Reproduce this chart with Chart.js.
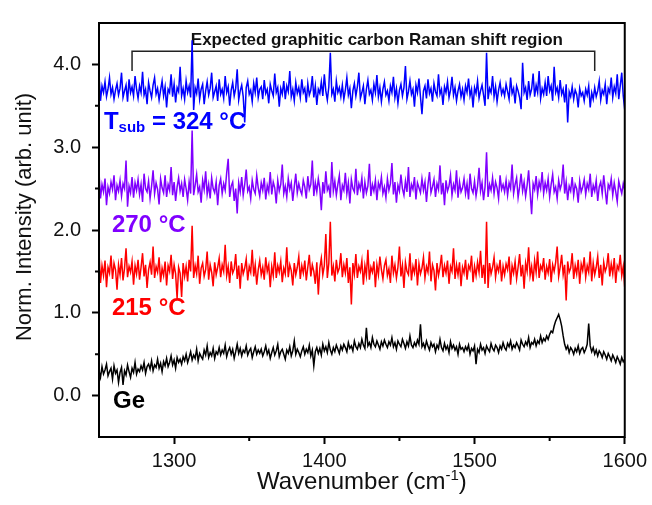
<!DOCTYPE html>
<html>
<head>
<meta charset="utf-8">
<script src="https://cdn.jsdelivr.net/npm/chart.js@4"></script>
<style>
  html, body { margin: 0; padding: 0; background: #fff; }
  canvas { display: block; }
</style>
</head>
<body>
<canvas id="ramanChart" width="652" height="505"></canvas>
<script>
// Raman spectra, normalised and offset; one value per cm-1 from 1250 to 1600
// (27 values per row: rows start at 1250, 1277, 1304, ... 1574)
const wavenumberStart = 1250;
const wavenumberStep = 1;

const tsub324 = [
  3.88, 3.56, 3.74, 3.66, 3.79, 3.61, 3.70, 3.84, 3.64, 3.72, 3.58, 3.69, 3.77, 3.63, 3.71, 3.90, 3.60, 3.68, 3.75, 3.55, 3.82, 3.66, 3.73, 3.62, 3.86, 3.70, 3.59,
  3.74, 3.66, 3.91, 3.63, 3.70, 3.52, 3.78, 3.68, 3.60, 3.75, 3.84, 3.64, 3.71, 3.57, 3.69, 3.80, 3.62, 3.73, 3.48, 3.70, 3.66, 3.88, 3.61, 3.76, 3.54, 3.72, 3.67,
  3.97, 3.62, 3.71, 3.58, 3.80, 3.66, 3.74, 3.60, 4.29, 3.45, 3.72, 3.65, 3.83, 3.58, 3.70, 3.76, 3.52, 3.68, 3.79, 3.63, 3.71, 3.90, 3.60, 3.67, 3.74, 3.56, 3.82,
  3.64, 3.70, 3.59, 3.86, 3.66, 3.73, 3.50, 3.69, 3.78, 3.62, 3.71, 3.94, 3.57, 3.68, 3.75, 3.61, 3.30, 3.72, 3.80, 3.64, 3.69, 3.55, 3.77, 3.66, 3.84, 3.60, 3.70,
  3.73, 3.58, 3.81, 3.65, 3.70, 3.53, 3.76, 3.68, 3.62, 3.89, 3.66, 3.72, 3.49, 3.71, 3.64, 3.80, 3.58, 3.74, 3.67, 3.92, 3.61, 3.70, 3.56, 3.78, 3.65, 3.72, 3.60,
  3.82, 3.66, 3.71, 3.54, 3.77, 3.63, 3.69, 3.86, 3.60, 3.74, 3.51, 3.70, 3.65, 3.79, 3.62, 3.88, 3.68, 3.57, 3.73, 4.14, 3.64, 3.70, 3.55, 3.80, 3.66, 3.72, 3.61,
  3.75, 3.58, 3.69, 3.84, 3.63, 3.71, 3.47, 3.68, 3.77, 3.62, 3.73, 3.90, 3.59, 3.66, 3.74, 3.52, 3.70, 3.81, 3.64, 3.69, 3.57, 3.76, 3.66, 3.87, 3.61, 3.72, 3.55,
  3.70, 3.79, 3.63, 3.68, 3.56, 3.74, 3.66, 3.85, 3.60, 3.71, 3.53, 3.69, 3.76, 3.62, 3.72, 3.98, 3.58, 3.67, 3.80, 3.64, 3.70, 3.49, 3.75, 3.66, 3.83, 3.61, 3.40,
  3.68, 3.74, 3.59, 3.82, 3.65, 3.71, 3.55, 3.77, 3.67, 3.62, 3.88, 3.64, 3.70, 3.51, 3.73, 3.66, 3.79, 3.60, 3.69, 3.85, 3.63, 3.72, 3.56, 3.68, 3.76, 3.61, 3.70,
  3.57, 3.74, 3.66, 3.83, 3.62, 3.70, 3.48, 3.72, 3.65, 3.80, 3.59, 3.68, 3.75, 3.63, 3.50, 4.14, 3.58, 3.71, 3.66, 3.86, 3.61, 3.73, 3.55, 3.69, 3.78, 3.64, 3.70,
  3.62, 3.76, 3.67, 3.58, 3.84, 3.65, 3.71, 3.53, 3.74, 3.68, 3.60, 3.46, 4.02, 3.66, 3.72, 3.57, 3.80, 3.63, 3.70, 3.89, 3.61, 3.75, 3.66, 3.92, 3.59, 3.71, 3.64,
  3.78, 3.62, 3.86, 3.68, 3.74, 3.56, 3.97, 3.66, 3.72, 3.60, 3.81, 3.64, 3.70, 3.54, 3.76, 3.30, 3.67, 3.61, 3.73, 3.58, 3.69, 3.64, 3.48, 3.71, 3.62, 3.66, 3.56,
  3.70, 3.63, 3.74, 3.48, 3.66, 3.58, 3.72, 3.61, 3.68, 3.80, 3.57, 3.69, 3.64, 3.76, 3.52, 3.71, 3.66, 3.84, 3.60, 3.73, 3.65, 3.88, 3.58, 3.74, 3.90, 3.62, 3.45
];

const tsub270 = [
  2.70, 2.38, 2.55, 2.46, 2.62, 2.30, 2.52, 2.44, 2.58, 2.49, 2.66, 2.36, 2.54, 2.47, 2.60, 2.41, 2.56, 2.50, 2.84, 2.28, 2.53, 2.45, 2.64, 2.39, 2.57, 2.48, 2.61,
  2.43, 2.55, 2.34, 2.68, 2.50, 2.46, 2.59, 2.38, 2.53, 2.72, 2.44, 2.57, 2.49, 2.31, 2.62, 2.51, 2.45, 2.66, 2.40, 2.55, 2.48, 2.76, 2.42, 2.58, 2.35, 2.52, 2.63,
  2.47, 2.56, 2.40, 2.61, 2.50, 2.36, 2.58, 2.44, 3.20, 2.42, 2.54, 2.67, 2.46, 2.52, 2.33, 2.60, 2.49, 2.71, 2.43, 2.55, 2.38, 2.63, 2.50, 2.45, 2.58, 2.30, 2.54,
  2.62, 2.44, 2.56, 2.48, 2.69, 2.86, 2.40, 2.53, 2.58, 2.35, 2.50, 2.20, 2.57, 2.46, 2.64, 2.42, 2.55, 2.73, 2.47, 2.52, 2.38, 2.60, 2.49, 2.44, 2.66, 2.51, 2.41,
  2.57, 2.48, 2.63, 2.37, 2.54, 2.46, 2.70, 2.43, 2.58, 2.51, 2.32, 2.60, 2.47, 2.55, 2.79, 2.44, 2.53, 2.40, 2.62, 2.49, 2.57, 2.35, 2.52, 2.68, 2.45, 2.56, 2.48,
  2.43, 2.60, 2.52, 2.38, 2.65, 2.49, 2.55, 2.84, 2.41, 2.57, 2.46, 2.62, 2.50, 2.24, 2.58, 2.44, 2.71, 2.48, 2.53, 2.39, 2.82, 2.47, 2.59, 2.42, 2.55, 2.66, 2.36,
  2.54, 2.48, 2.69, 2.44, 2.57, 2.32, 2.61, 2.50, 2.46, 2.74, 2.42, 2.56, 2.49, 2.63, 2.38, 2.58, 2.45, 2.53, 2.80, 2.41, 2.55, 2.47, 2.60, 2.36, 2.57, 2.50, 2.64,
  2.44, 2.52, 2.39, 2.62, 2.48, 2.56, 2.81, 2.43, 2.58, 2.33, 2.54, 2.47, 2.67, 2.50, 2.42, 2.59, 2.46, 2.76, 2.40, 2.55, 2.49, 2.64, 2.37, 2.57, 2.51, 2.45, 2.62,
  2.48, 2.58, 2.34, 2.55, 2.70, 2.45, 2.52, 2.61, 2.40, 2.56, 2.49, 2.78, 2.43, 2.57, 2.30, 2.60, 2.47, 2.53, 2.66, 2.42, 2.55, 2.48, 2.72, 2.39, 2.58, 2.46, 2.51,
  2.62, 2.44, 2.56, 2.37, 2.68, 2.50, 2.45, 2.59, 2.41, 2.53, 2.75, 2.47, 2.57, 2.36, 2.52, 2.94, 2.40, 2.55, 2.48, 2.63, 2.44, 2.58, 2.51, 2.38, 2.66, 2.49, 2.55,
  2.46, 2.60, 2.42, 2.57, 2.50, 2.79, 2.44, 2.55, 2.63, 2.39, 2.52, 2.68, 2.47, 2.58, 2.41, 2.54, 2.72, 2.45, 2.19, 2.56, 2.49, 2.65, 2.43, 2.58, 2.50, 2.70, 2.44,
  2.57, 2.48, 2.62, 2.40, 2.55, 2.67, 2.46, 2.52, 2.38, 2.60, 2.49, 2.56, 2.79, 2.44, 2.58, 2.36, 2.53, 2.47, 2.64, 2.42, 2.55, 2.50, 2.33, 2.59, 2.46, 2.52, 2.61,
  2.43, 2.56, 2.49, 2.68, 2.40, 2.54, 2.47, 2.60, 2.35, 2.52, 2.58, 2.44, 2.66, 2.48, 2.31, 2.55, 2.50, 2.62, 2.42, 2.57, 2.46, 2.34, 2.59, 2.51, 2.44, 2.56, 2.48
];

const tsub215 = [
  1.74, 1.36, 1.57, 1.45, 1.63, 1.31, 1.55, 1.48, 1.69, 1.41, 1.60, 1.52, 1.28, 1.58, 1.46, 1.66, 1.39, 1.54, 1.78, 1.43, 1.56, 1.49, 1.62, 1.34, 1.57, 1.47, 1.64,
  1.40, 1.55, 1.72, 1.44, 1.58, 1.30, 1.52, 1.61, 1.46, 1.80, 1.42, 1.56, 1.49, 1.67, 1.37, 1.54, 1.45, 1.62, 1.33, 1.57, 1.50, 1.70, 1.41, 1.58, 1.47, 1.17, 1.55,
  1.48, 1.19, 1.60, 1.44, 1.56, 1.38, 1.64, 1.50, 2.05, 1.42, 1.57, 1.47, 1.69, 1.35, 1.54, 1.60, 1.44, 1.52, 1.74, 1.40, 1.58, 1.49, 1.32, 1.61, 1.46, 1.55, 1.66,
  1.43, 1.58, 1.50, 1.82, 1.45, 1.56, 1.36, 1.62, 1.48, 1.53, 1.71, 1.41, 1.57, 1.29, 1.60, 1.47, 1.54, 1.65, 1.39, 1.56, 1.49, 1.76, 1.44, 1.58, 1.34, 1.52, 1.63,
  1.46, 1.55, 1.40, 1.67, 1.50, 1.58, 1.31, 1.56, 1.45, 1.73, 1.42, 1.57, 1.49, 1.62, 1.37, 1.54, 1.47, 1.79, 1.43, 1.58, 1.51, 1.33, 1.60, 1.46, 1.55, 1.68, 1.41,
  1.57, 1.48, 1.63, 1.39, 1.55, 1.70, 1.44, 1.58, 1.50, 1.35, 1.61, 1.22, 1.54, 1.66, 1.46, 1.57, 1.95, 1.42, 1.60, 2.10, 1.45, 1.56, 1.38, 1.64, 1.49, 1.54, 1.72,
  1.43, 1.58, 1.48, 1.66, 1.36, 1.55, 1.10, 1.60, 1.47, 1.71, 1.42, 1.56, 1.50, 1.63, 1.34, 1.57, 1.45, 1.76, 1.40, 1.55, 1.49, 1.62, 1.31, 1.58, 1.46, 1.68, 1.52,
  1.41, 1.57, 1.64, 1.45, 1.53, 1.36, 1.69, 1.48, 1.58, 1.42, 1.55, 1.80, 1.44, 1.57, 1.30, 1.61, 1.50, 1.46, 1.72, 1.39, 1.56, 1.48, 1.65, 1.33, 1.59, 1.47, 1.54,
  1.67, 1.42, 1.56, 1.49, 1.74, 1.38, 1.58, 1.51, 1.27, 1.60, 1.45, 1.55, 1.70, 1.43, 1.57, 1.48, 1.63, 1.35, 1.56, 1.50, 1.78, 1.41, 1.58, 1.46, 1.61, 1.32, 1.55,
  1.48, 1.64, 1.40, 1.57, 1.52, 1.69, 1.37, 1.56, 1.45, 1.61, 1.49, 1.75, 1.42, 1.58, 1.35, 2.10, 1.30, 1.60, 1.47, 1.55, 1.67, 1.43, 1.57, 1.50, 1.64, 1.38, 1.56,
  1.46, 1.59, 1.52, 1.68, 1.34, 1.57, 1.48, 1.62, 1.41, 1.55, 1.71, 1.44, 1.58, 1.29, 1.60, 1.50, 1.79, 1.45, 1.56, 1.38, 1.63, 1.49, 1.74, 1.42, 1.57, 1.52, 1.66,
  1.40, 1.56, 1.48, 1.65, 1.37, 1.58, 1.50, 1.61, 1.80, 1.44, 1.55, 1.70, 1.46, 1.58, 1.15, 1.62, 1.49, 1.54, 1.72, 1.41, 1.57, 1.47, 1.64, 1.35, 1.59, 1.51, 1.67,
  1.43, 1.57, 1.49, 1.74, 1.38, 1.60, 1.46, 1.55, 1.68, 1.42, 1.58, 1.33, 1.61, 1.50, 1.56, 1.72, 1.44, 1.59, 1.47, 1.66, 1.36, 1.57, 1.52, 1.70, 1.45, 1.56, 1.30
];

const ge = [
  0.30, 0.22, 0.35, 0.26, 0.31, 0.38, 0.24, 0.29, 0.33, 0.20, 0.36, 0.27, 0.31, 0.16, 0.28, 0.34, 0.13, 0.30, 0.25, 0.37, 0.29, 0.22, 0.33, 0.28, 0.40, 0.26, 0.32,
  0.29, 0.36, 0.31, 0.40, 0.27, 0.35, 0.38, 0.32, 0.42, 0.30, 0.37, 0.34, 0.44, 0.33, 0.39, 0.29, 0.41, 0.36, 0.45, 0.35, 0.40, 0.48, 0.37, 0.43, 0.33, 0.46, 0.40,
  0.44, 0.38, 0.47, 0.42, 0.50, 0.40, 0.46, 0.53, 0.43, 0.49, 0.45, 0.56, 0.42, 0.51, 0.47, 0.44, 0.55, 0.49, 0.60, 0.46, 0.52, 0.48, 0.57, 0.45, 0.53, 0.50, 0.58,
  0.49, 0.55, 0.51, 0.61, 0.47, 0.54, 0.58, 0.50, 0.56, 0.45, 0.53, 0.62, 0.51, 0.57, 0.48, 0.55, 0.52, 0.60, 0.49, 0.54, 0.57, 0.46, 0.53, 0.59, 0.50, 0.55, 0.51,
  0.56, 0.48, 0.53, 0.60, 0.50, 0.55, 0.45, 0.52, 0.58, 0.49, 0.54, 0.62, 0.47, 0.53, 0.56, 0.50, 0.44, 0.55, 0.51, 0.59, 0.48, 0.54, 0.66, 0.50, 0.56, 0.52, 0.47,
  0.54, 0.59, 0.50, 0.56, 0.52, 0.61, 0.48, 0.55, 0.36, 0.53, 0.58, 0.51, 0.57, 0.49, 0.62, 0.54, 0.59, 0.52, 0.64, 0.55, 0.50, 0.58, 0.53, 0.61, 0.56, 0.51, 0.60,
  0.55, 0.62, 0.58, 0.53, 0.64, 0.57, 0.60, 0.54, 0.66, 0.59, 0.56, 0.63, 0.58, 0.68, 0.61, 0.57, 0.82, 0.60, 0.64, 0.58, 0.70, 0.62, 0.59, 0.66, 0.61, 0.56, 0.65,
  0.60, 0.67, 0.62, 0.58, 0.65, 0.61, 0.70, 0.59, 0.64, 0.56, 0.66, 0.62, 0.59, 0.68, 0.63, 0.57, 0.65, 0.60, 0.72, 0.61, 0.58, 0.64, 0.60, 0.67, 0.62, 0.86, 0.59,
  0.63, 0.57, 0.66, 0.60, 0.55, 0.64, 0.59, 0.62, 0.53, 0.61, 0.57, 0.68, 0.58, 0.54, 0.63, 0.56, 0.60, 0.52, 0.65, 0.57, 0.61, 0.55, 0.59, 0.50, 0.62, 0.56, 0.58,
  0.53, 0.59, 0.55, 0.61, 0.50, 0.57, 0.54, 0.60, 0.38, 0.56, 0.52, 0.62, 0.55, 0.58, 0.51, 0.60, 0.56, 0.53, 0.63, 0.57, 0.54, 0.61, 0.58, 0.52, 0.60, 0.56, 0.64,
  0.58, 0.55, 0.63, 0.59, 0.66, 0.56, 0.61, 0.58, 0.64, 0.60, 0.55, 0.67, 0.62, 0.59, 0.65, 0.61, 0.70, 0.58, 0.64, 0.62, 0.68, 0.60, 0.66, 0.63, 0.72, 0.64, 0.69,
  0.66, 0.72, 0.68, 0.74, 0.78, 0.76, 0.84, 0.90, 0.94, 0.98, 0.92, 0.84, 0.72, 0.62, 0.56, 0.60, 0.52, 0.58, 0.55, 0.50, 0.57, 0.53, 0.60, 0.51, 0.56, 0.58, 0.52,
  0.56, 0.62, 0.87, 0.60, 0.53, 0.58, 0.50, 0.55, 0.48, 0.54, 0.51, 0.46, 0.53, 0.49, 0.44, 0.51, 0.47, 0.42, 0.49, 0.45, 0.40, 0.47, 0.43, 0.38, 0.46, 0.41, 0.44
];

const xTicks = [1300, 1400, 1500, 1600];
const xMinorTicks = [1350, 1450, 1550];
const yTicks = [0, 1, 2, 3, 4];
const yMinorTicks = [0.5, 1.5, 2.5, 3.5];
const shiftRegion = [1272, 1580];

const wavenumbers = ge.map((_, i) => wavenumberStart + i * wavenumberStep);
const FONT = '"Liberation Sans", Arial, Helvetica, sans-serif';

const series = [
  { label: '324 °C', values: tsub324, color: '#0000ff' },
  { label: '270 °C', values: tsub270, color: '#8000ff' },
  { label: '215 °C', values: tsub215, color: '#ff0000' },
  { label: 'Ge', values: ge, color: '#000000' }
];

// text labels next to each trace (data coordinates of the left baseline)
const traceLabels = [
  { parts: [['T', 24], ['sub', 15, 3], [' = 324 °C', 24]], x: 1253.3, y: 3.215, color: '#0000ff' },
  { parts: [['270 °C', 24]], x: 1258.6, y: 1.976, color: '#8000ff' },
  { parts: [['215 °C', 24]], x: 1258.6, y: 0.974, color: '#ff0000' },
  { parts: [['Ge', 24]], x: 1259.3, y: -0.146, color: '#000000' }
];

const decorations = {
  id: 'decorations',
  beforeDatasetsDraw(chart) {
    const { ctx, scales: { x, y } } = chart;
    ctx.save();
    // bracket over the graphitic carbon region
    const x0 = x.getPixelForValue(shiftRegion[0]);
    const x1 = x.getPixelForValue(shiftRegion[1]);
    const yTop = y.getPixelForValue(4.16);
    const yEnd = y.getPixelForValue(3.92);
    ctx.strokeStyle = '#222';
    ctx.lineWidth = 1.5;
    ctx.beginPath();
    ctx.moveTo(x0, yEnd);
    ctx.lineTo(x0, yTop);
    ctx.lineTo(x1, yTop);
    ctx.lineTo(x1, yEnd);
    ctx.stroke();
    ctx.fillStyle = '#111';
    ctx.font = 'bold 17px ' + FONT;
    ctx.textAlign = 'center';
    ctx.textBaseline = 'alphabetic';
    ctx.fillText('Expected graphitic carbon Raman shift region', x.getPixelForValue(1435), y.getPixelForValue(4.24));

    // trace labels
    ctx.textAlign = 'left';
    traceLabels.forEach(lab => {
      let px = x.getPixelForValue(lab.x);
      const py = y.getPixelForValue(lab.y);
      ctx.fillStyle = lab.color;
      lab.parts.forEach(([txt, size, dy]) => {
        ctx.font = 'bold ' + size + 'px ' + FONT;
        ctx.fillText(txt, px, py + (dy || 0));
        px += ctx.measureText(txt).width;
      });
    });
    ctx.restore();
  },
  afterDraw(chart) {
    const { ctx, chartArea: a, scales: { x, y } } = chart;
    ctx.save();
    // frame
    ctx.strokeStyle = '#000';
    ctx.lineWidth = 2;
    ctx.strokeRect(a.left, a.top, a.right - a.left, a.bottom - a.top);
    // minor ticks
    ctx.beginPath();
    xMinorTicks.forEach(v => {
      const px = x.getPixelForValue(v);
      ctx.moveTo(px, a.bottom);
      ctx.lineTo(px, a.bottom + 4);
    });
    yMinorTicks.forEach(v => {
      const py = y.getPixelForValue(v);
      ctx.moveTo(a.left, py);
      ctx.lineTo(a.left - 4, py);
    });
    ctx.stroke();

    // axis titles
    ctx.fillStyle = '#111';
    ctx.textBaseline = 'middle';
    ctx.font = '22px ' + FONT;
    ctx.save();
    ctx.translate(25, 217);
    ctx.rotate(-Math.PI / 2);
    ctx.textAlign = 'center';
    ctx.fillText('Norm. Intensity (arb. unit)', 0, 0);
    ctx.restore();

    const parts = [['Wavenumber (cm', 24, 0], ['-1', 15, -9], [')', 24, 0]];
    let total = 0;
    parts.forEach(([t, s]) => { ctx.font = s + 'px ' + FONT; total += ctx.measureText(t).width; });
    let px = (a.left + a.right) / 2 - total / 2;
    ctx.textAlign = 'left';
    ctx.textBaseline = 'alphabetic';
    parts.forEach(([t, s, dy]) => {
      ctx.font = s + 'px ' + FONT;
      ctx.fillText(t, px, 489 + dy);
      px += ctx.measureText(t).width;
    });
    ctx.restore();
  }
};

const ctx = document.getElementById('ramanChart');

new Chart(ctx, {
  type: 'line',
  data: {
    datasets: series.map(s => ({
      label: s.label,
      data: s.values.map((v, i) => ({ x: wavenumbers[i], y: v })),
      borderColor: s.color,
      borderWidth: 1.5,
      pointRadius: 0,
      tension: 0,
      fill: false
    }))
  },
  options: {
    responsive: false,
    animation: false,
    parsing: false,
    layout: { padding: { top: 13, right: 25, left: 0, bottom: 0 } },
    plugins: {
      legend: { display: false },
      tooltip: { enabled: false }
    },
    scales: {
      x: {
        type: 'linear',
        min: 1250,
        max: 1600,
        afterBuildTicks: s => { s.ticks = xTicks.map(v => ({ value: v })); },
        afterFit: s => { s.height = 68; },
        border: { display: false },
        grid: { drawOnChartArea: false, drawTicks: true, tickLength: 7, tickWidth: 2, tickColor: '#000' },
        ticks: {
          padding: 5,
          maxRotation: 0,
          color: '#111',
          font: { family: FONT, size: 20 },
          callback: v => String(v)
        }
      },
      y: {
        type: 'linear',
        min: -0.5,
        max: 4.5,
        afterBuildTicks: s => { s.ticks = yTicks.map(v => ({ value: v })); },
        afterFit: s => { s.width = 99; },
        border: { display: false },
        grid: { drawOnChartArea: false, drawTicks: true, tickLength: 7, tickWidth: 2, tickColor: '#000' },
        ticks: {
          padding: 11,
          color: '#111',
          font: { family: FONT, size: 20 },
          callback: v => v.toFixed(1)
        }
      }
    }
  },
  plugins: [decorations]
});
</script>
</body>
</html>
